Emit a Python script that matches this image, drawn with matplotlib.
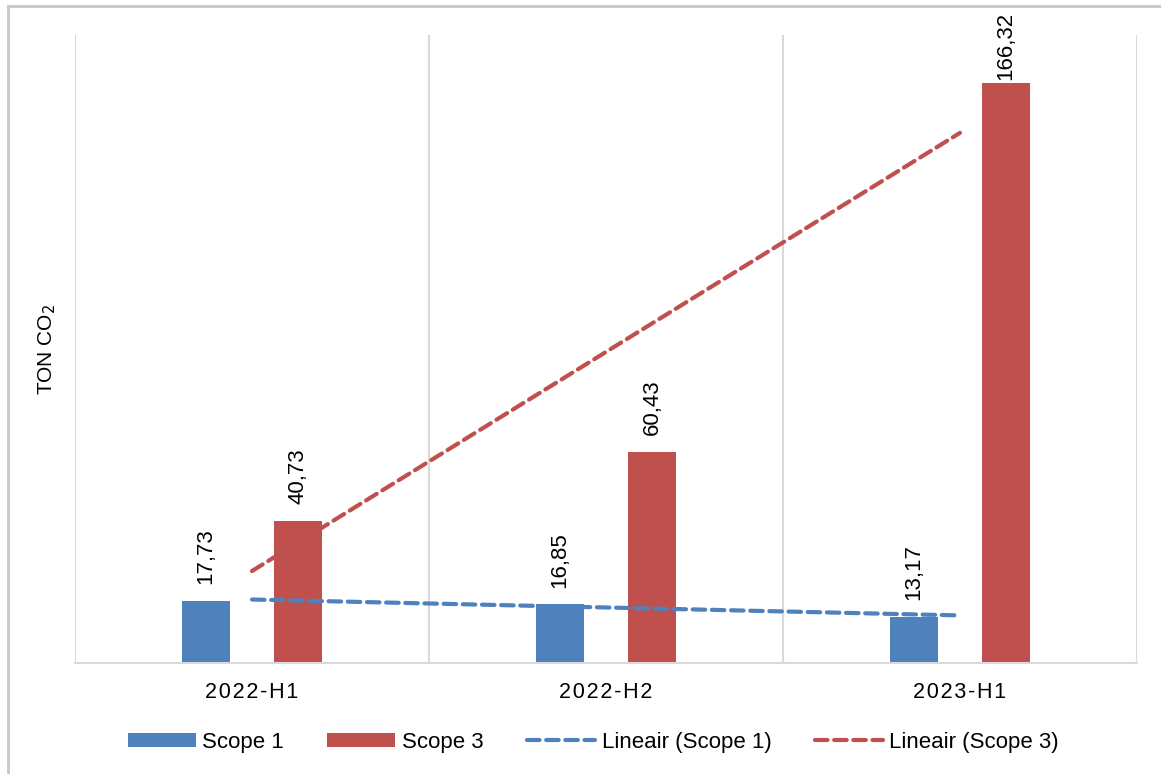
import matplotlib.pyplot as plt
import numpy as np
from matplotlib.lines import Line2D

plt.rcParams['font.family'] = ['Liberation Sans', 'DejaVu Sans']

categories = ["2022-H1", "2022-H2", "2023-H1"]
scope1 = [17.73, 16.85, 13.17]
scope3 = [40.73, 60.43, 166.32]
labels1 = ["17,73", "16,85", "13,17"]
labels3 = ["40,73", "60,43", "166,32"]

blue = "#4F81BD"
red = "#C0504D"
grid = "#D9D9D9"

fig = plt.figure(figsize=(11.61, 7.74), dpi=100)
ax = fig.add_axes([75 / 1161, 1 - 663 / 774, (1137 - 75) / 1161, (663 - 35) / 774])

x = np.arange(1, len(categories) + 1)
w = 0.136
off = 0.13

b1 = ax.bar(x - off, scope1, w, color=blue, zorder=2)
b3 = ax.bar(x + off, scope3, w, color=red, zorder=2)

# linear trend lines (Excel "Lineair")
for vals, col in [(scope1, blue), (scope3, red)]:
    k, m = np.polyfit(x, vals, 1)
    ax.plot(x, k * x + m, color=col, lw=3, ls=(0, (3, 1.6)),
            dash_capstyle='round', zorder=3)

# value labels
for bars, labs in [(b1, labels1), (b3, labels3)]:
    for rect, lab in zip(bars, labs):
        h = rect.get_height()
        dy = 2 if h == max(scope3) else 12
        ax.annotate(lab, (rect.get_x() + rect.get_width() / 2, h),
                    xytext=(0, dy), textcoords='offset points',
                    rotation=90, ha='center', va='bottom', fontsize=16,
                    annotation_clip=False)

ax.set_xlim(0.5, 3.5)
ax.set_ylim(0, 180)
ax.set_xticks(x)
ax.set_xticklabels(["\u200a".join(c) for c in categories], fontsize=15.5)
ax.tick_params(axis='x', length=0, pad=14)
ax.set_yticks([])
for xv in [0.5, 1.5, 2.5, 3.5]:
    ax.axvline(xv, color=grid, lw=1.5, zorder=1)
for s in ['top', 'right', 'left']:
    ax.spines[s].set_visible(False)
ax.spines['bottom'].set_color(grid)
ax.spines['bottom'].set_linewidth(1.5)

ax.set_ylabel("TON CO$_2$", fontsize=15, labelpad=12)

handles = [
    b1, b3,
    Line2D([], [], color=blue, lw=3, ls=(0, (3, 1.6)), dash_capstyle='round'),
    Line2D([], [], color=red, lw=3, ls=(0, (3, 1.6)), dash_capstyle='round'),
]
names = ["Scope 1", "Scope 3", "Lineair (Scope 1)", "Lineair (Scope 3)"]
fig.legend(handles, names, loc='center', bbox_to_anchor=(0.511, 0.041),
           ncol=4, frameon=False, fontsize=16, handlelength=3.06,
           handleheight=0.55, handletextpad=0.3, columnspacing=1.95)

# chart border (left and top edges)
fig.add_artist(Line2D([8 / 1161, 8 / 1161], [0, 1 - 6 / 774], color="#C8C8C8", lw=2))
fig.add_artist(Line2D([8 / 1161, 1], [1 - 6 / 774, 1 - 6 / 774], color="#C8C8C8", lw=2))

fig.savefig("out.png", dpi=100)
